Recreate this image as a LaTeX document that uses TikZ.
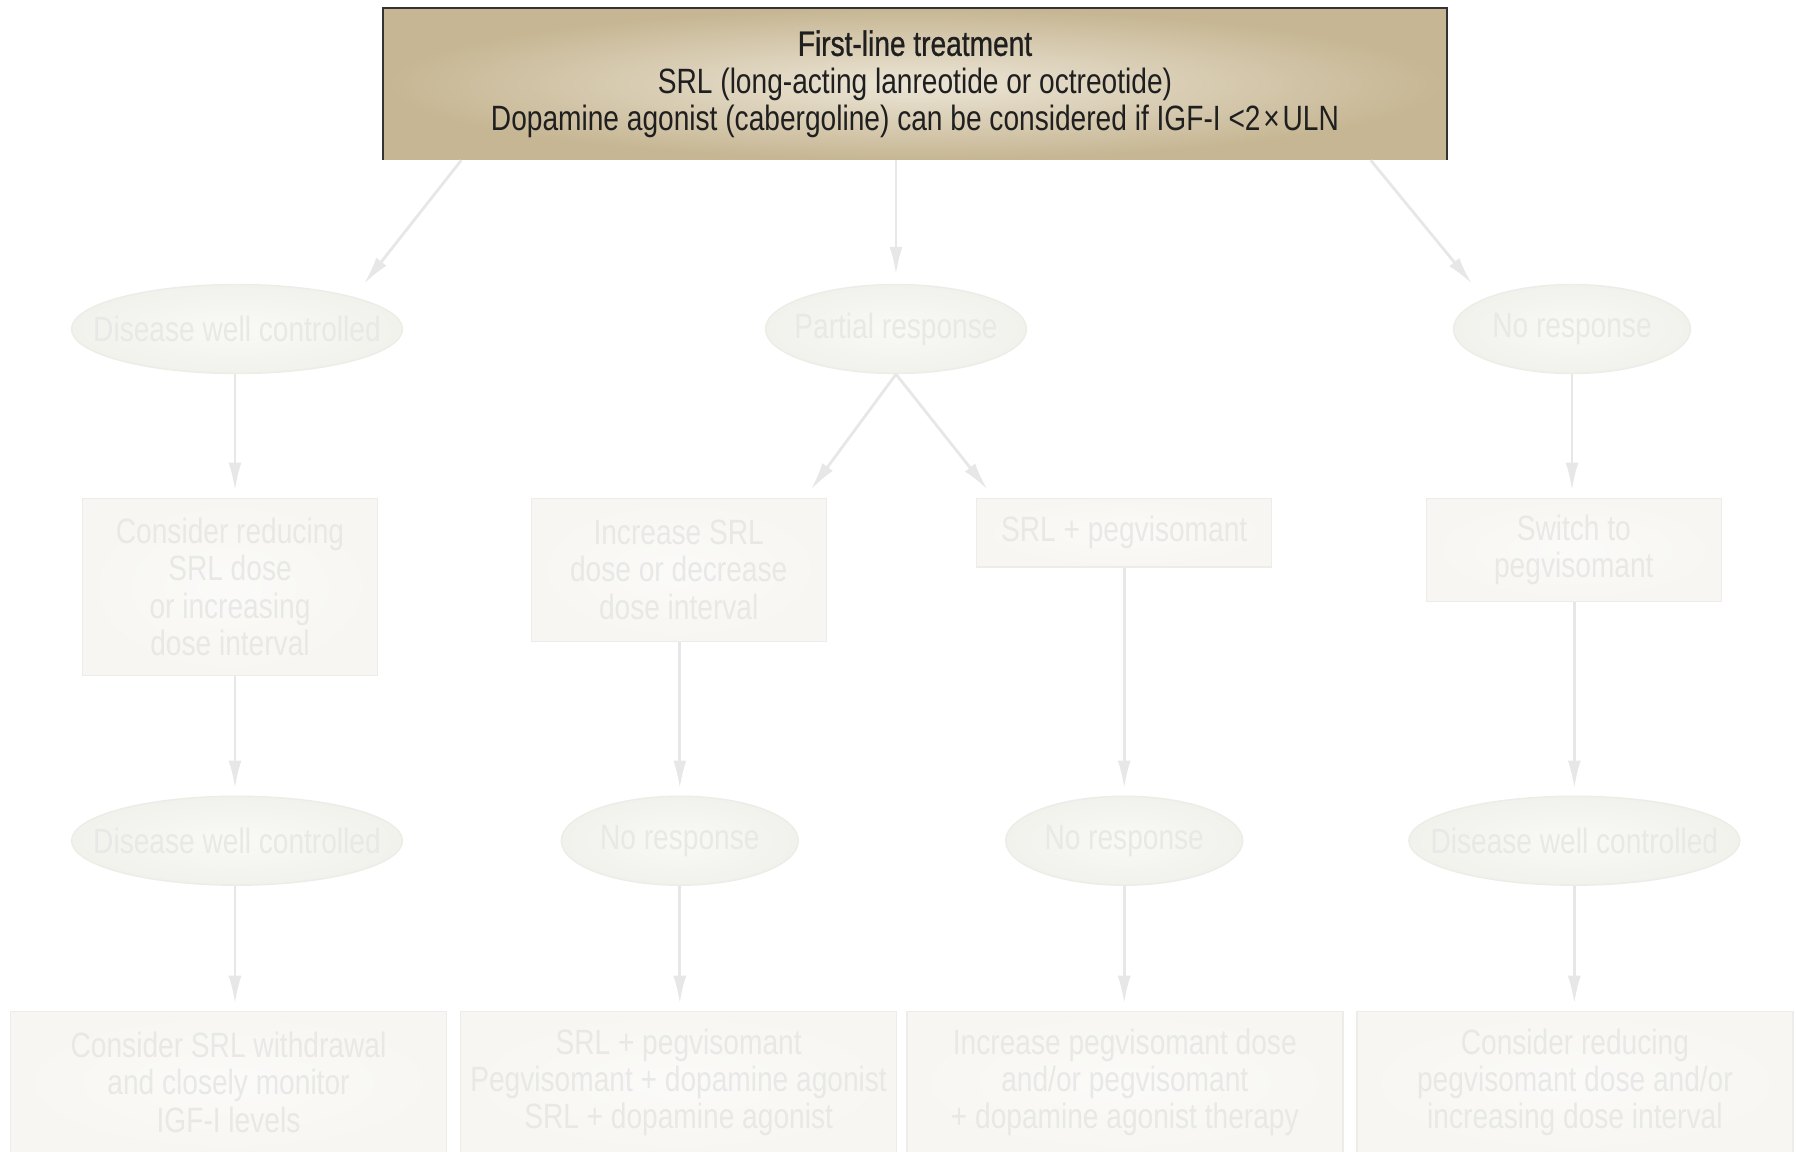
\documentclass[tikz,border=0pt]{standalone}
\usepackage{fontspec}
\setmainfont{Liberation Sans}[FakeStretch=0.80]
\newfontfamily\headfont{Liberation Sans}[FakeStretch=0.80,FakeBold=0.8]
\usetikzlibrary{shapes.geometric,arrows.meta}

\definecolor{tan}{RGB}{198,182,147}
\definecolor{tanlight}{RGB}{236,229,214}
\definecolor{faint}{RGB}{232,232,230}
\definecolor{boxfill}{RGB}{247,246,242}
\definecolor{boxedge}{RGB}{237,236,232}
\definecolor{ellfill}{RGB}{241,242,236}
\definecolor{ellmid}{RGB}{249,249,246}
\definecolor{arrowgray}{RGB}{231,231,231}

\newcommand{\nowidth}[1]{\makebox[0pt]{#1}}

\begin{document}
\begin{tikzpicture}[
  font=\fontsize{10}{10.6}\selectfont,
  >={Latex[length=2.8mm,width=1.3mm]},
  firstline/.style={inner color=tanlight, outer color=tan, minimum width=10.62cm, minimum height=1.51cm, inner sep=0pt, align=center, text=black!88},
  ell/.style={ellipse, draw=boxedge, inner color=ellmid, outer color=ellfill, minimum height=0.89cm, inner sep=0pt, text=faint},
  box/.style={draw=boxedge, inner color=white!50!boxfill, outer color=boxfill, align=center, text=faint, minimum width=2.95cm, inner sep=0pt},
  widebox/.style={box, minimum width=4.36cm, minimum height=1.42cm},
  arr/.style={->, draw=arrowgray, line width=0.8pt}
]
  \useasboundingbox (0,0) rectangle (17.96,-11.51);

  \node[firstline] (top) at (9.15,-0.84) {{\headfont First-line treatment}\\SRL (long-acting lanreotide or octreotide)\\Dopamine agonist (cabergoline) can be considered if IGF-I <2\kern0.08em×\kern0.08em ULN};
  \draw[black!80, line width=0.6pt] (top.south west) -- (top.north west) -- (top.north east) -- (top.south east);

  \node[ell, minimum width=3.31cm] (d1) at (2.37,-3.29) {\nowidth{Disease well controlled}};
  \node[ell, minimum width=2.61cm] (p1) at (8.96,-3.29) {\nowidth{Partial response}};
  \node[ell, minimum width=2.37cm] (n1) at (15.72,-3.29) {\nowidth{No response}};

  \node[box, minimum height=1.775cm] (b1) at (2.30,-5.87) {Consider reducing\\SRL dose\\or increasing\\dose interval};
  \node[box, minimum height=1.43cm] (b2) at (6.787,-5.698) {Increase SRL\\dose or decrease\\dose interval};
  \node[box, minimum height=0.687cm] (b3) at (11.242,-5.326) {SRL + pegvisomant};
  \node[box, minimum height=1.03cm] (b4) at (15.738,-5.498) {Switch to\\pegvisomant};

  \node[ell, minimum width=3.31cm] (d2) at (2.37,-8.407) {\nowidth{Disease well controlled}};
  \node[ell, minimum width=2.37cm] (n2) at (6.798,-8.407) {\nowidth{No response}};
  \node[ell, minimum width=2.37cm] (n3) at (11.242,-8.407) {\nowidth{No response}};
  \node[ell, minimum width=3.31cm] (d3) at (15.743,-8.407) {\nowidth{Disease well controlled}};

  \node[widebox] (r1) at (2.285,-10.824) {Consider SRL withdrawal\\and closely monitor\\IGF-I levels};
  \node[widebox] (r2) at (6.786,-10.824) {SRL + pegvisomant\\Pegvisomant + dopamine agonist\\SRL + dopamine agonist};
  \node[widebox] (r3) at (11.248,-10.824) {Increase pegvisomant dose\\and/or pegvisomant\\+ dopamine agonist therapy};
  \node[widebox] (r4) at (15.749,-10.824) {Consider reducing\\pegvisomant dose and/or\\increasing dose interval};

  \draw[arr] ([xshift=0.78cm]top.south west) -- ([xshift=1.27cm]d1.north);
  \draw[arr] (top.south -| p1) -- ([yshift=0.09cm]p1.north);
  \draw[arr] ([xshift=-0.76cm]top.south east) -- ([xshift=-1.0cm]n1.north);

  \draw[arr, shorten >=0.7mm] ([xshift=-0.02cm]d1.south) -- ([xshift=-0.02cm]d1.south |- b1.north);
  \draw[arr] (p1.south) -- ([xshift=-0.16cm,yshift=0.08cm]b2.north east);
  \draw[arr] (p1.south) -- ([xshift=0.115cm,yshift=0.08cm]b3.north west);
  \draw[arr, shorten >=0.7mm] (n1.south) -- (n1.south |- b4.north);

  \draw[arr, shorten >=0.7mm] ([xshift=-0.02cm]b1.south -| d2) -- ([xshift=-0.02cm]d2.north);
  \draw[arr, shorten >=0.7mm] (b2.south -| n2) -- (n2.north);
  \draw[arr, shorten >=0.7mm] (b3.south -| n3) -- (n3.north);
  \draw[arr, shorten >=0.7mm] (b4.south -| d3) -- (d3.north);

  \draw[arr, shorten >=0.7mm] ([xshift=-0.02cm]d2.south) -- ([xshift=-0.02cm]d2.south |- r1.north);
  \draw[arr, shorten >=0.7mm] (n2.south) -- (n2.south |- r2.north);
  \draw[arr, shorten >=0.7mm] (n3.south) -- (n3.south |- r3.north);
  \draw[arr, shorten >=0.7mm] (d3.south) -- (d3.south |- r4.north);
\end{tikzpicture}
\end{document}
